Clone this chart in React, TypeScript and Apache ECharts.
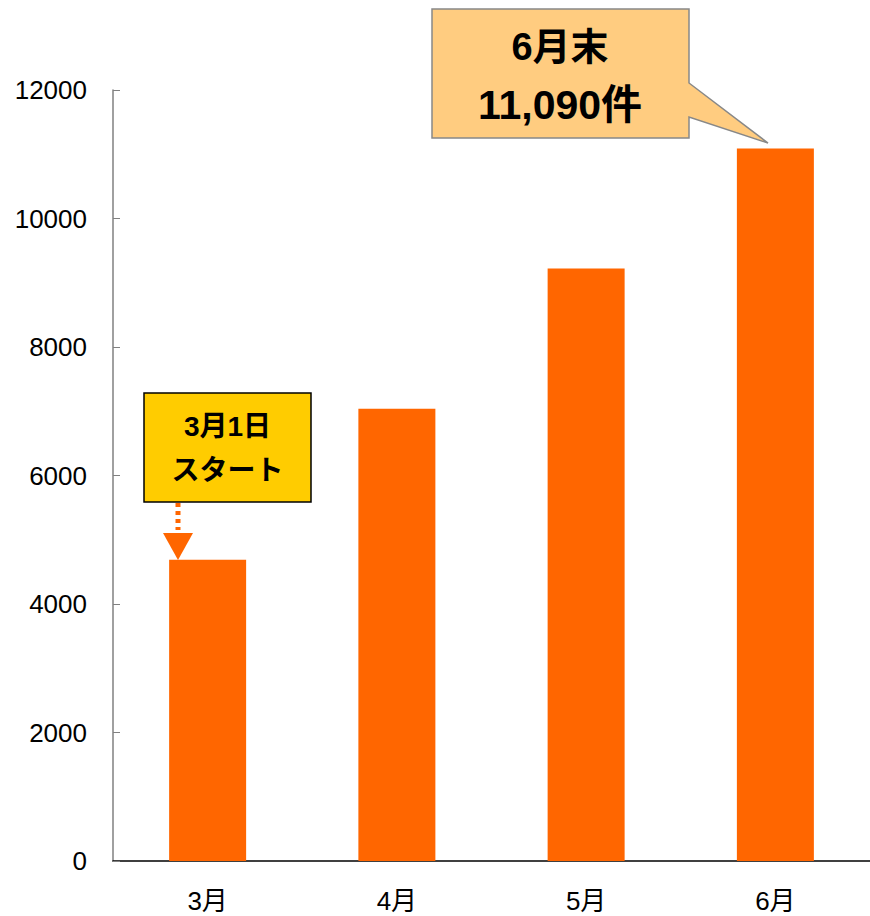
import React, { useEffect, useRef } from "react";
import * as echarts from "echarts";

const categories = ["3月", "4月", "5月", "6月"];
const values = [4690, 7040, 9220, 11090];
const yTicks = { min: 0, max: 12000, interval: 2000 };
const startNoteLines = ["3月1日", "スタート"];
const endNoteLines = ["6月末", "11,090件"];

const FONT = '"Liberation Sans", Arial, "Noto Sans CJK JP", sans-serif';

export default function App() {
  const ref = useRef<HTMLDivElement>(null);
  useEffect(() => {
    if (!ref.current) return;
    const chart = echarts.init(ref.current, undefined, { renderer: "svg" });
    chart.setOption({
      animation: false,
      backgroundColor: "#ffffff",
      grid: { left: 113, top: 90, width: 760, height: 771 },
      xAxis: {
        type: "category",
        data: categories,
        axisLine: { lineStyle: { color: "#000000", width: 1.5 } },
        axisTick: { inside: true, length: 7, lineStyle: { color: "#000000" } },
        axisLabel: { color: "#000000", fontSize: 26, margin: 27, fontFamily: FONT },
      },
      yAxis: {
        type: "value",
        min: yTicks.min,
        max: yTicks.max,
        interval: yTicks.interval,
        splitLine: { show: false },
        axisLine: { show: true, lineStyle: { color: "#808080", width: 1.5 } },
        axisTick: { show: true, inside: true, length: 7, lineStyle: { color: "#808080" } },
        axisLabel: {
          color: "#000000",
          fontSize: 26,
          margin: 26,
          fontFamily: FONT,
          formatter: (v: number) => String(v),
        },
      },
      series: [
        {
          type: "bar",
          data: values,
          barWidth: 77,
          itemStyle: { color: "#FF6600" },
        },
      ],
      graphic: [
        {
          type: "rect",
          shape: { x: 144, y: 393, width: 167, height: 109 },
          style: { fill: "#FFCC00", stroke: "#000000", lineWidth: 1.5 },
        },
        {
          type: "text",
          x: 227.5,
          y: 426,
          style: {
            text: startNoteLines[0],
            fill: "#000000",
            font: `bold 28px ${FONT}`,
            align: "center",
            verticalAlign: "middle",
          },
        },
        {
          type: "text",
          x: 227.5,
          y: 470,
          style: {
            text: startNoteLines[1],
            fill: "#000000",
            font: `bold 28px ${FONT}`,
            align: "center",
            verticalAlign: "middle",
          },
        },
        {
          type: "line",
          shape: { x1: 178, y1: 503, x2: 178, y2: 530 },
          style: { stroke: "#FF6600", lineWidth: 5, lineDash: [4, 4] },
        },
        {
          type: "polygon",
          shape: { points: [[163, 533], [193, 533], [178, 560]] },
          style: { fill: "#FF6600" },
        },
        {
          type: "polygon",
          shape: {
            points: [
              [432, 9],
              [689, 9],
              [689, 83],
              [768, 143],
              [689, 117],
              [689, 138],
              [432, 138],
            ],
          },
          style: { fill: "#FFCC80", stroke: "#888888", lineWidth: 1.5 },
        },
        {
          type: "text",
          x: 560,
          y: 47,
          style: {
            text: endNoteLines[0],
            fill: "#000000",
            font: `bold 38px ${FONT}`,
            align: "center",
            verticalAlign: "middle",
          },
        },
        {
          type: "text",
          x: 560,
          y: 105,
          style: {
            text: endNoteLines[1],
            fill: "#000000",
            font: `bold 41px ${FONT}`,
            align: "center",
            verticalAlign: "middle",
          },
        },
      ],
    });
    return () => chart.dispose();
  }, []);
  return (
    <div
      ref={ref}
      style={{ position: "fixed", left: 0, top: 0, width: 870, height: 916 }}
    />
  );
}
